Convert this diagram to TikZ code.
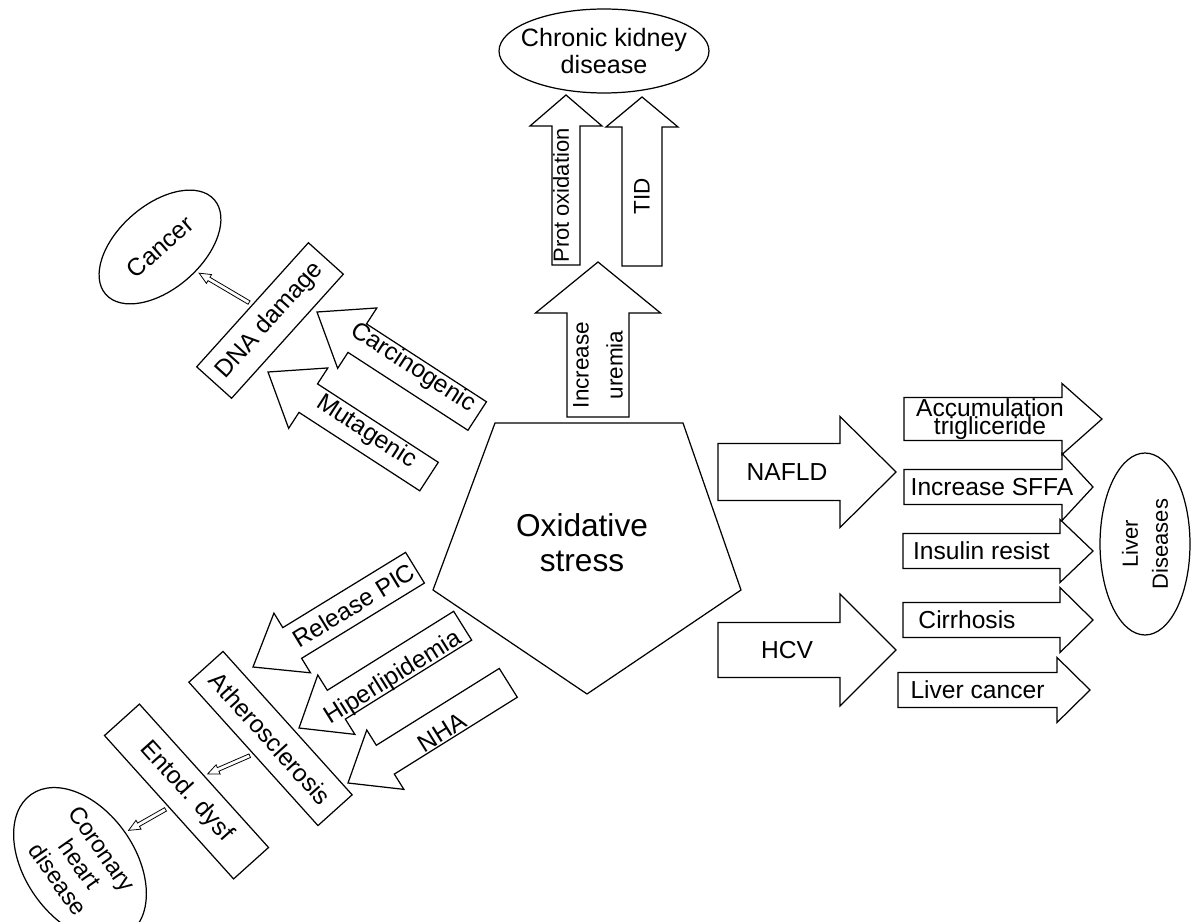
\documentclass[tikz,border=0pt]{standalone}
\usepackage{fontspec}
\setmainfont{Liberation Sans}
\usetikzlibrary{shapes.geometric,calc}

\tikzset{
  blk/.style={draw, fill=white, line width=0.7pt, line join=miter},
  lbl/.style={font=\fontsize{14}{16}\selectfont, align=center, inner sep=0pt},
  box/.style={draw, fill=white, line width=0.7pt, inner sep=0pt, align=center, font=\fontsize{14}{16}\selectfont},
  oval/.style={box, ellipse},
  thinarr/.style={draw, fill=white, line width=0.45pt, line join=miter}
}

% block arrow: name, tip, angle, shaft length, shaft width, head length, head width, text, text options
\newcommand{\blockarrow}[9]{%
  \begin{scope}[shift={#2}, rotate=#3]
    \draw[blk] (0,0) -- (-#6,#7/2) -- (-#6,#5/2) -- ({-#6-#4},#5/2)
      -- ({-#6-#4},-#5/2) -- (-#6,-#5/2) -- (-#6,-#7/2) -- cycle;
    \node[lbl, #9] (#1) at ({-#6-#4/2},0) {#8};
  \end{scope}}

% narrow hollow arrow between two anchors
\newcommand{\thinarrow}[2]{%
  \coordinate (ta-s) at ($(#1)!2pt!(#2)$);
  \coordinate (ta-t) at ($(#2)!2pt!(#1)$);
  \coordinate (ta-h) at ($(ta-t)!6.5pt!(ta-s)$);
  \draw[thinarr] ($(ta-s)!1.1pt!90:(ta-t)$) -- ($(ta-h)!1.1pt!-90:(ta-s)$)
    -- ($(ta-h)!2.9pt!-90:(ta-s)$) -- (ta-t) -- ($(ta-h)!2.9pt!90:(ta-s)$)
    -- ($(ta-h)!1.1pt!90:(ta-s)$) -- ($(ta-s)!1.1pt!-90:(ta-t)$) -- cycle;}

\begin{document}
\begin{tikzpicture}[x=0.02cm, y=-0.02cm]
  \useasboundingbox (0,0) rectangle (1193,922);

  % Oxidative stress
  \draw[blk] (495,423) -- (683,423) -- (741,590) -- (587,694) -- (433,590) -- cycle;
  \node[lbl, font=\fontsize{18}{19.8}\selectfont] (ox) at (582,543) {Oxidative\\stress};

  % kidney
  \node[oval, inner xsep=-0.19cm, minimum width=4.2cm, minimum height=1.68cm,
        font=\fontsize{14.3}{15.3}\selectfont] (ckd) at (604,51) {Chronic kidney\\disease};
  \blockarrow{uremia}{(598,262)}{90}{104}{62}{51}{125}{Increase\\uremia}{rotate=90, font=\fontsize{12.8}{19.3}\selectfont}
  \blockarrow{prot}{(566,95)}{90}{139}{28}{31}{72}{Prot oxidation}{rotate=90, yshift=0.1cm, font=\fontsize{12.5}{14}\selectfont}
  \blockarrow{tid}{(642,97)}{90}{139}{40}{30}{72}{TID}{rotate=90, font=\fontsize{12.8}{14}\selectfont}

  % liver
  \blockarrow{nafld}{(896,472)}{0}{122}{57}{56}{111}{NAFLD}{xshift=0.16cm}
  \blockarrow{hcv}{(896,650)}{0}{122}{55}{56}{112}{HCV}{xshift=0.16cm}
  \blockarrow{accum}{(1102,419)}{0}{158}{43}{40}{71}{Accumulation\\[-6pt]trigliceride}{xshift=0.14cm}
  \blockarrow{sffa}{(1093,487)}{0}{158}{35}{31}{67}{Increase SFFA}{xshift=0.18cm}
  \blockarrow{insulin}{(1093,551)}{0}{157}{35}{33}{63}{Insulin resist}{}
  \blockarrow{cirr}{(1093,620)}{0}{157}{35}{33}{65}{Cirrhosis}{xshift=-0.29cm}
  \blockarrow{livca}{(1090,690)}{0}{159}{35}{33}{65}{Liver cancer}{}
  \node[oval, rotate=90, minimum width=3.64cm, minimum height=1.8cm,
        font=\fontsize{12.5}{17}\selectfont] (liver) at (1145,544) {Liver\\Diseases};

  % cancer
  \node[oval, rotate=41, minimum width=2.88cm, minimum height=1.68cm] (cancer) at (160,247) {Cancer};
  \node[box, rotate=48, minimum width=3.34cm, minimum height=0.94cm] (dna) at (270,320.5) {DNA damage};
  \blockarrow{carc}{(317,312)}{147}{143}{34}{48}{72}{Carcinogenic}{rotate=-33, xshift=-0.17cm, yshift=0.11cm}
  \blockarrow{muta}{(268,372)}{147}{144}{34}{48}{72}{Mutagenic}{rotate=-33, xshift=-0.1cm, yshift=0.065cm}
  \thinarrow{dna.north}{cancer.-75}

  % heart
  \blockarrow{pic}{(253,667)}{211.5}{144}{36}{46}{70}{Release PIC}{rotate=31.5}
  \blockarrow{hiper}{(299,728)}{212}{149}{34}{44}{70}{Hiperlipidemia}{rotate=32, xshift=-0.24cm, yshift=-0.15cm}
  \blockarrow{nha}{(348,783)}{212}{145}{34}{44}{70}{NHA}{rotate=32, xshift=-0.2cm, yshift=-0.13cm}
  \node[box, rotate=-48, minimum width=3.86cm, minimum height=0.92cm] (ath) at (270.5,738.5) {Atherosclerosis};
  \node[box, rotate=-48, minimum width=3.86cm, minimum height=0.94cm] (entod) at (186.5,791.5) {Entod. dysf};
  \node[oval, rotate=-55, minimum width=3.4cm, minimum height=2.2cm,
        font=\fontsize{13.5}{15.3}\selectfont] (chd) at (80,864) {Coronary\\heart\\disease};
  \thinarrow{ath.south}{entod.north}
  \thinarrow{entod.south}{chd.north}
\end{tikzpicture}
\end{document}
